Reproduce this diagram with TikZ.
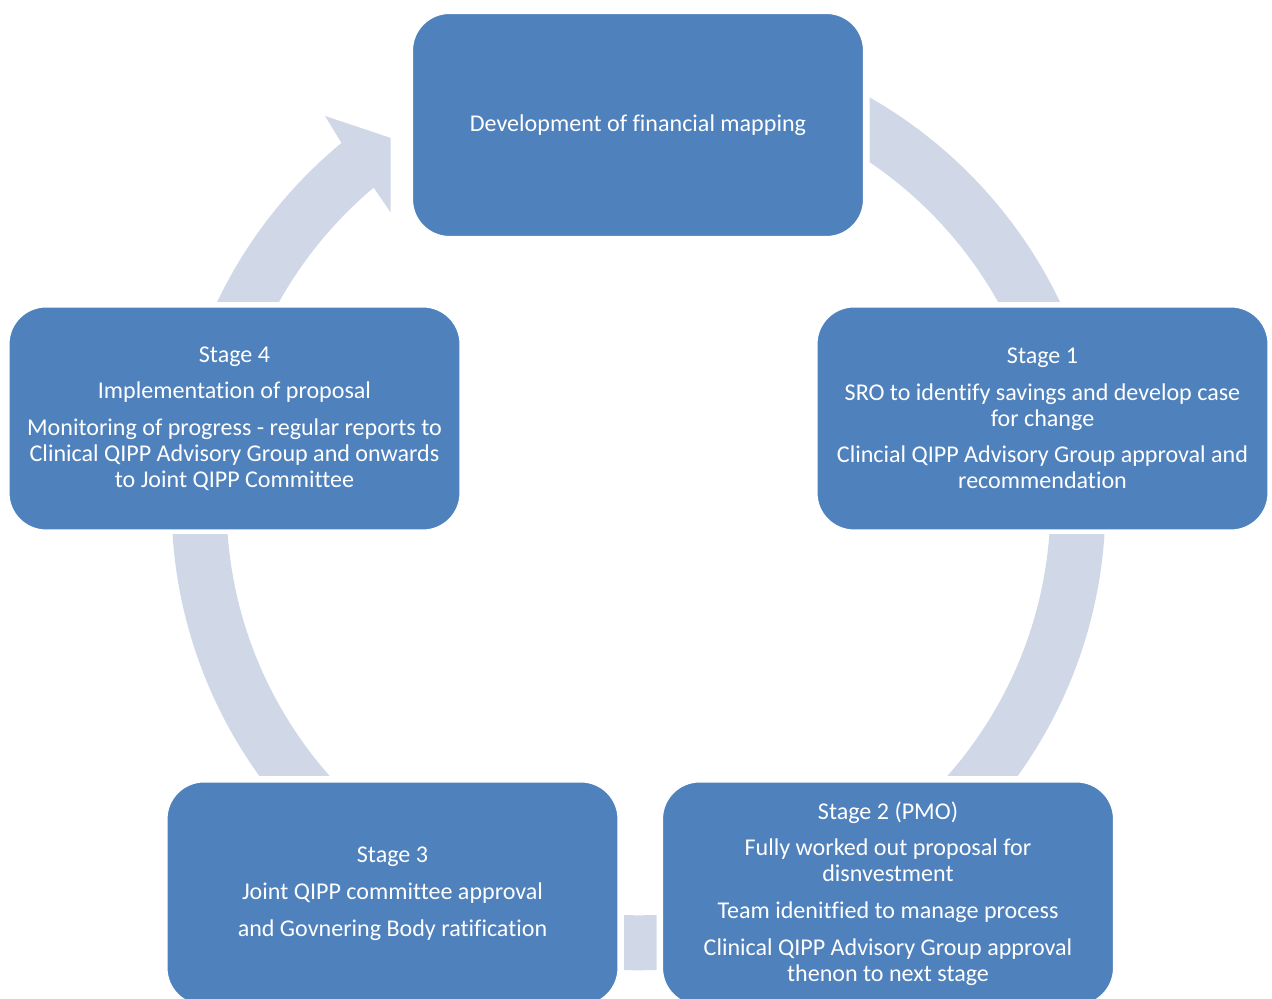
\documentclass[tikz,border=0pt]{standalone}
\usepackage{fontspec}
\setmainfont{Carlito}[Ligatures=NoCommon]
\definecolor{boxblue}{RGB}{79,129,189}
\definecolor{arrowgray}{RGB}{208,216,232}
\newcommand\pgap{\\[6.2pt]}
\begin{document}
\begin{tikzpicture}[x=0.02cm,y=0.02cm,
  stagebox/.style={rectangle, rounded corners=0.74cm, fill=boxblue, draw=white, line width=0.6pt,
    text=white, minimum width=9.02cm, minimum height=4.46cm, inner sep=0pt, align=center,
    font=\fontsize{13.7}{14.74}\selectfont},
  band/.style={fill=arrowgray}]
\useasboundingbox (0,0) rectangle (1272,999);
\clip (0,0) rectangle (1272,999);
\coordinate (C) at (638.5,495.7);
% circular band segments
\begin{scope}
  \clip (869.5,697.5) rectangle (1272,999);
  \fill[band,even odd rule] (C) circle[radius=467] (C) circle[radius=412];
\end{scope}
\begin{scope}
  \clip (640,223.5) rectangle (1272,464);
  \fill[band,even odd rule] (C) circle[radius=467] (C) circle[radius=412];
\end{scope}
\begin{scope}
  \clip (624,0) rectangle (656.7,200);
  \fill[band,even odd rule] (C) circle[radius=467] (C) circle[radius=412];
\end{scope}
\begin{scope}
  \clip (0,223.5) rectangle (637,464);
  \fill[band,even odd rule] (C) circle[radius=467] (C) circle[radius=412];
\end{scope}
% arrow with head (top left)
\begin{scope}
  \clip (0,697.5) rectangle (390.5,999);
  \fill[band] ([shift={(C)}]165:467) arc[start angle=165,end angle=129.5,radius=467]
    -- (325,883) -- (396,859.3) -- (396,778.8)
    -- ([shift={(C)}]130:412) arc[start angle=130,end angle=165,radius=412] -- cycle;
\end{scope}
% boxes
\node[stagebox] (top) at (638,874) {Development of financial mapping};
\node[stagebox] (s1) at (1042.5,580.5) {Stage 1\pgap SRO to identify savings and develop case\\for change\pgap Clincial QIPP Advisory Group approval and\\recommendation};
\node[stagebox] (s2) at (888,105.5) {Stage 2 (PMO)\pgap Fully worked out proposal for\\disnvestment\pgap Team idenitfied to manage process\pgap Clinical QIPP Advisory Group approval\\thenon to next stage};
\node[stagebox] (s3) at (392.5,105.5) {Stage 3\pgap Joint QIPP committee approval\pgap and Govnering Body ratification};
\node[stagebox] (s4) at (234.5,580.5) {Stage 4\pgap Implementation of proposal\pgap Monitoring of progress - regular reports to\\Clinical QIPP Advisory Group and onwards\\to Joint QIPP Committee};
\end{tikzpicture}
\end{document}
